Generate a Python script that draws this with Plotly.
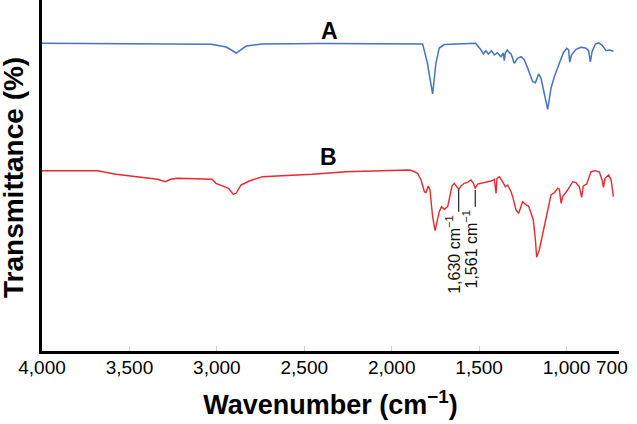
import plotly.graph_objects as go

# Spectrum A (blue)
wn_a = [4000, 3500, 3100, 3032, 2946, 2889, 2832, 2740, 2400, 1957, 1823, 1796, 1766, 1747, 1728, 1699,
        1520, 1489, 1476, 1461, 1447, 1430, 1413, 1396, 1375, 1362, 1356, 1350, 1339, 1327, 1317, 1299,
        1280, 1260, 1241, 1222, 1194, 1178, 1160, 1146, 1127, 1108, 1089, 1070, 1041, 1018, 999, 988,
        982, 972, 946, 917, 888, 874, 864, 854, 835, 816, 797, 774, 755, 732]
t_a = [87.7, 87.6, 87.6, 87.4, 86.61, 84.9, 86.89, 87.46, 87.6, 87.66, 87.5, 82.05, 73.22, 82.05, 86.32, 87.3,
       87.66, 85.76, 84.62, 85.56, 84.62, 85.56, 84.33, 84.99, 83.85, 84.9, 82.71, 84.99, 85.76, 84.99, 84.62, 81.97,
       83.39, 83.85, 82.91, 80.54, 76.72, 76.44, 78.92, 77.69, 72.93, 68.86, 74.84, 78.15, 81.97, 84.99, 86.24, 85.76,
       82.25, 84.33, 85.95, 86.52, 86.24, 85.56, 82.34, 85.27, 87.46, 87.8, 87.18, 85.56, 85.76, 85.38]

# Spectrum B (red)
wn_b = [4000, 3682, 3577, 3501, 3406, 3339, 3295, 3263, 3225, 3120, 3028, 3005, 2967, 2933, 2906, 2889,
        2862, 2815, 2740, 2454, 2261, 2071, 1899, 1880, 1852, 1832, 1813, 1804, 1791, 1781, 1766, 1752,
        1741, 1728, 1715, 1699, 1680, 1670, 1655, 1642, 1629, 1617, 1604, 1585, 1566, 1546, 1533, 1522,
        1509, 1489, 1461, 1432, 1413, 1403, 1398, 1384, 1366, 1350, 1337, 1327, 1317, 1308, 1289, 1274,
        1251, 1232, 1217, 1203, 1190, 1178, 1171, 1156, 1140, 1127, 1108, 1089, 1070, 1051, 1041, 1031,
        1022, 994, 965, 946, 927, 914, 904, 885, 860, 835, 812, 797, 789, 780, 759, 745, 732]
t_b = [51.37, 51.37, 50.34, 49.86, 49.2, 48.92, 48.23, 48.92, 49.2, 49.09, 48.92, 47.78, 47.09, 46.35, 44.64, 45.0,
       47.29, 48.43, 49.66, 50.34, 51.08, 51.37, 51.57, 51.28, 50.63, 48.72, 45.38, 45.1, 47.01, 45.87, 38.26, 34.27,
       36.38, 39.69, 41.11, 40.37, 41.11, 43.96, 47.01, 47.78, 46.81, 46.07, 47.01, 47.78, 48.06, 48.72, 47.78, 46.35,
       47.58, 47.78, 48.15, 48.43, 48.92, 44.93, 49.2, 49.66, 48.23, 46.81, 47.29, 46.35, 45.38, 43.96, 40.17, 39.23,
       42.53, 41.6, 41.31, 39.23, 37.32, 31.62, 26.7, 28.78, 32.56, 35.41, 40.66, 44.44, 45.1, 46.35, 46.1, 42.08,
       43.96, 45.87, 48.23, 47.95, 46.81, 43.79, 47.01, 47.58, 51.08, 51.37, 51.0, 48.72, 46.64, 49.2, 50.14, 48.72, 43.96]

# Peak markers
peak_wn = [1617, 1522]
peak_top = [46.0, 45.9]
peak_bottom = [39.7, 41.1]
peak_labels = ["1,630 cm<sup>−1</sup>", "1,561 cm<sup>−1</sup>"]

# Series labels
series_names = ["A", "B"]
series_label_wn = [2357, 2363]
series_label_t = [91.2, 55.3]

tick_vals = [4000, 3500, 3000, 2500, 2000, 1500, 1000]
tick_text = ["4,000", "3,500", "3,000", "2,500", "2,000", "1,500", "1,000"]
end_tick_val = 700
end_tick_text = "700"

FONT = "Liberation Sans, Arial, sans-serif"
TICK_SIZE = 19

fig = go.Figure()
fig.add_trace(go.Scatter(x=wn_a, y=t_a, mode="lines", line=dict(color="#4472c4", width=1.5), showlegend=False))
fig.add_trace(go.Scatter(x=wn_b, y=t_b, mode="lines", line=dict(color="#e8282e", width=1.4), showlegend=False))

lx, ly = [], []
for w, a, b in zip(peak_wn, peak_top, peak_bottom):
    lx += [w, w, None]
    ly += [a, b, None]
fig.add_trace(go.Scatter(x=lx, y=ly, mode="lines", line=dict(color="#222222", width=1.2), showlegend=False))

for w, b, txt in zip(peak_wn, peak_bottom, peak_labels):
    fig.add_annotation(x=w, y=b, text=txt, textangle=-90, showarrow=False,
                       xanchor="center", yanchor="top", xshift=-5, yshift=-1,
                       font=dict(family=FONT, size=16, color="#111111"))

for name, w, t in zip(series_names, series_label_wn, series_label_t):
    fig.add_annotation(x=w, y=t, text="<b>%s</b>" % name, showarrow=False,
                       font=dict(family=FONT, size=23, color="black"))

# end-of-axis tick label, nudged left as in the original
fig.add_annotation(x=end_tick_val, y=0, xref="x", yref="paper", text=end_tick_text, showarrow=False,
                   xanchor="center", yanchor="top", xshift=-7, yshift=-4,
                   font=dict(family=FONT, size=TICK_SIZE, color="black"))

# y-axis title
fig.add_annotation(x=0, y=0.5, xref="paper", yref="paper", text="<b>Transmittance (%)</b>",
                   textangle=-90, showarrow=False, xanchor="right", yanchor="middle",
                   xshift=-11, yshift=-2, font=dict(family=FONT, size=28, color="black"))

fig.update_layout(
    width=637, height=424,
    margin=dict(l=42, r=18, t=0, b=73),
    paper_bgcolor="white", plot_bgcolor="white",
    font=dict(family=FONT, color="black"),
    xaxis=dict(range=[4000, 700], tickvals=tick_vals, ticktext=tick_text,
               showgrid=False, zeroline=False, showline=True, linecolor="black", linewidth=2.5,
               ticks="inside", ticklen=5, tickcolor="#cccccc", ticklabelstandoff=-3,
               tickfont=dict(family=FONT, size=TICK_SIZE, color="black"),
               title=dict(text="<b>Wavenumber (cm<sup>−1</sup>)</b>", standoff=19,
                          font=dict(family=FONT, size=27, color="black"))),
    yaxis=dict(range=[0, 100], showticklabels=False, showgrid=False, zeroline=False,
               showline=True, linecolor="black", linewidth=3, ticks=""),
)

fig.write_html("out.html", config={"displayModeBar": False},
               post_script="document.body.style.margin='0';document.body.style.overflow='hidden';")
